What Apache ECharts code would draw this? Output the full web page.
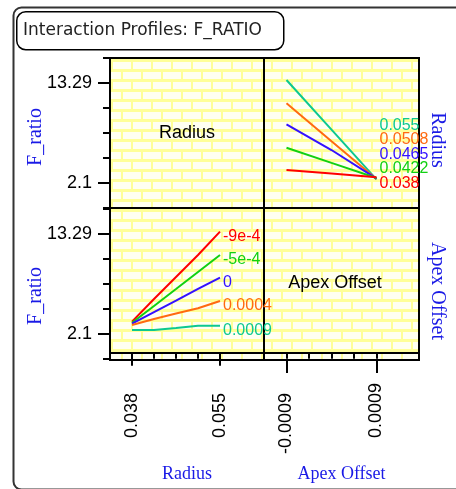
<!DOCTYPE html>
<html><head><meta charset="utf-8">
<script src="https://cdn.jsdelivr.net/npm/echarts@6/dist/echarts.min.js"></script>
<style>html,body{margin:0;padding:0;background:#fff}#c{width:456px;height:489px}</style>
</head><body><div id="c"></div>
<script>
// ---- data ----
const titleText = 'Interaction Profiles: F_RATIO';
const responseName = 'F_ratio';
const factorNames = ['Radius', 'Apex Offset'];
const fTickLabels = [2.1, 13.29];
const radiusTickLabels = [0.038, 0.055];
const apexTickLabels = [-0.0009, 0.0009];

// top-right panel: F_ratio vs Apex Offset, one line per Radius level
const apexX = [-0.0009, 0, 0.0009];
const radiusLevelNames = ['0.055', '0.0508', '0.0465', '0.0422', '0.038'];
const fAtRadius0550 = [13.63, 8.07, 2.51];
const fAtRadius0508 = [11.02, 6.78, 2.55];
const fAtRadius0465 = [8.67, 5.79, 2.60];
const fAtRadius0422 = [6.05, 4.35, 2.66];
const fAtRadius0380 = [3.55, 3.15, 2.74];

// bottom-left panel: F_ratio vs Radius, one line per Apex Offset level
const radiusX = [0.038, 0.04225, 0.0465, 0.05075, 0.055];
const apexLevelNames = ['-9e-4', '-5e-4', '0', '0.0004', '0.0009'];
const fAtApexM9 = [3.48, 6.02, 8.48, 10.94, 13.55];
const fAtApexM5 = [3.36, 5.24, 7.13, 9.03, 10.94];
const fAtApex0 = [3.25, 4.56, 5.83, 7.14, 8.40];
const fAtApexP4 = [3.11, 3.78, 4.39, 4.98, 5.79];
const fAtApexP9 = [2.55, 2.55, 2.77, 3.03, 3.03];

// ---- styling ----
const C = { red: '#ff0000', green: '#12d012', blue: '#3311ff', orange: '#ff6a10', teal: '#0dc890' };
const SANS = '"Liberation Sans", Arial, sans-serif';
const SERIF = '"Liberation Serif", "Times New Roman", serif';

// brick pattern
const tile = document.createElement('canvas');
tile.width = 20; tile.height = 20;
const g = tile.getContext('2d');
g.fillStyle = '#ffff99'; g.fillRect(0, 0, 20, 20);
g.fillStyle = '#fffff2';
[[13, 2], [-7, 2], [3, 12], [-17, 12]].forEach(p => g.fillRect(p[0], p[1], 18, 7));
const bricks = { image: tile, repeat: 'repeat' };

// ticks derived from the labelled ticks
const yStep = (fTickLabels[1] - fTickLabels[0]) / 4;
const yTicks = [-1, 0, 1, 2, 3, 4, 5].map(k => fTickLabels[0] + k * yStep);
const rStep = (radiusTickLabels[1] - radiusTickLabels[0]) / 4;
const rTicks = [-1, 0, 1, 2, 3, 4].map(k => radiusTickLabels[0] + k * rStep);
const aStep = (apexTickLabels[1] - apexTickLabels[0]) / 4;
const aTicks = [-1, 0, 1, 2, 3, 4].map(k => apexTickLabels[0] + k * aStep);

const rMin = radiusTickLabels[0] - rStep, rMax = radiusTickLabels[0] + 6 * rStep;
const aMin = apexTickLabels[0] - aStep, aMax = apexTickLabels[0] + 5.89 * aStep;
const yTopMin = fTickLabels[0] - yStep, yTopMax = fTickLabels[1] + yStep;
const yBotMin = fTickLabels[0] - yStep * 26 / 25, yBotMax = fTickLabels[1] + yStep * 26 / 25;

const gridBase = { show: true, backgroundColor: bricks, borderColor: '#000', borderWidth: 2, containLabel: false };
const grids = [
  Object.assign({ left: 110, top: 58, width: 154, height: 150 }, gridBase),
  Object.assign({ left: 264, top: 58, width: 155, height: 150 }, gridBase),
  Object.assign({ left: 110, top: 208, width: 154, height: 152 }, gridBase),
  Object.assign({ left: 264, top: 208, width: 155, height: 152 }, gridBase)
];

const lineAx = { show: true, lineStyle: { color: '#000', width: 2 } };
function hiddenAxis(extra) {
  return Object.assign({ type: 'value', axisLine: { show: false }, axisTick: { show: false },
    axisLabel: { show: false }, splitLine: { show: false } }, extra);
}
function tickAxis(extra, ticks, len) {
  return Object.assign({ type: 'value', axisLine: lineAx,
    axisTick: { show: true, length: len, customValues: ticks, lineStyle: { color: '#000', width: 2 } },
    axisLabel: { show: false }, splitLine: { show: false } }, extra);
}
const xLabel = {
  show: true, rotate: 90, margin: 23, color: '#000', fontSize: 18, fontFamily: SANS,
  formatter: v => (v < 0 ? '{n|' : '{p|') + String(v) + '}',
  rich: { p: { width: 55, align: 'left', fontSize: 18, fontFamily: SANS, color: '#000' },
          n: { width: 71, align: 'left', fontSize: 18, fontFamily: SANS, color: '#000' } }
};
const nameBottom = { color: '#1a1ae6', fontSize: 18, fontFamily: SERIF };
function sideName(pad) { return { color: '#1a1ae6', fontSize: 20, fontFamily: SERIF, padding: pad }; }

const xAxes = [
  hiddenAxis({ gridIndex: 0, min: rMin, max: rMax }),
  hiddenAxis({ gridIndex: 1, min: aMin, max: aMax }),
  tickAxis({ gridIndex: 2, position: 'bottom', min: rMin, max: rMax }, rTicks, 6),
  Object.assign(tickAxis({ gridIndex: 2, position: 'bottom', min: rMin, max: rMax }, radiusTickLabels, 13), {
    axisLabel: Object.assign({ customValues: radiusTickLabels }, xLabel),
    name: factorNames[0], nameLocation: 'middle', nameGap: 105, nameTextStyle: nameBottom }),
  tickAxis({ gridIndex: 3, position: 'bottom', min: aMin, max: aMax }, aTicks, 6),
  Object.assign(tickAxis({ gridIndex: 3, position: 'bottom', min: aMin, max: aMax }, apexTickLabels, 13), {
    axisLabel: Object.assign({ customValues: apexTickLabels }, xLabel),
    name: factorNames[1], nameLocation: 'middle', nameGap: 105, nameTextStyle: nameBottom })
];
const yLabel = { show: true, margin: 18, color: '#000', fontSize: 18, fontFamily: SANS, formatter: v => String(v) };
const yAxes = [
  tickAxis({ gridIndex: 0, position: 'left', min: yTopMin, max: yTopMax }, yTicks, 7),
  Object.assign(tickAxis({ gridIndex: 0, position: 'left', min: yTopMin, max: yTopMax }, fTickLabels, 12), {
    axisLabel: Object.assign({ customValues: fTickLabels }, yLabel),
    name: responseName, nameLocation: 'middle', nameRotate: 90, nameGap: 64, nameMoveOverlap: false,
    nameTextStyle: sideName([0, 8, 0, 0]) }),
  hiddenAxis({ gridIndex: 1, position: 'right', min: yTopMin, max: yTopMax,
    name: factorNames[0], nameLocation: 'middle', nameRotate: -90, nameGap: 8, nameTextStyle: sideName([0, 0, 0, 14]) }),
  tickAxis({ gridIndex: 2, position: 'left', min: yBotMin, max: yBotMax }, yTicks, 7),
  Object.assign(tickAxis({ gridIndex: 2, position: 'left', min: yBotMin, max: yBotMax }, fTickLabels, 12), {
    axisLabel: Object.assign({ customValues: fTickLabels }, yLabel),
    name: responseName, nameLocation: 'middle', nameRotate: 90, nameGap: 64, nameMoveOverlap: false,
    nameTextStyle: sideName([0, 24, 0, 0]) }),
  hiddenAxis({ gridIndex: 3, position: 'right', min: yBotMin, max: yBotMax,
    name: factorNames[1], nameLocation: 'middle', nameRotate: -90, nameGap: 8, nameTextStyle: sideName([0, 0, 0, 14]) })
];

function lineSeries(name, xs, ys, color, xi, yi, dy) {
  return {
    type: 'line', name: name, xAxisIndex: xi, yAxisIndex: yi,
    data: xs.map((x, i) => [x, ys[i]]), showSymbol: false, symbol: 'none',
    lineStyle: { color: color, width: 2 }, itemStyle: { color: color },
    clip: false, silent: true,
    endLabel: { show: true, formatter: name, color: color, fontSize: 16, fontFamily: SANS,
      distance: 3, offset: [0, dy] }
  };
}
const series = [
  lineSeries(radiusLevelNames[0], apexX, fAtRadius0550, C.teal, 1, 2, -54),
  lineSeries(radiusLevelNames[1], apexX, fAtRadius0508, C.orange, 1, 2, -39),
  lineSeries(radiusLevelNames[2], apexX, fAtRadius0465, C.blue, 1, 2, -24),
  lineSeries(radiusLevelNames[3], apexX, fAtRadius0422, C.green, 1, 2, -9),
  lineSeries(radiusLevelNames[4], apexX, fAtRadius0380, C.red, 1, 2, 6),
  lineSeries(apexLevelNames[0], radiusX, fAtApexM9, C.red, 2, 3, 5),
  lineSeries(apexLevelNames[1], radiusX, fAtApexM5, C.green, 2, 3, 5),
  lineSeries(apexLevelNames[2], radiusX, fAtApex0, C.blue, 2, 3, 5),
  lineSeries(apexLevelNames[3], radiusX, fAtApexP4, C.orange, 2, 3, 5),
  lineSeries(apexLevelNames[4], radiusX, fAtApexP9, C.teal, 2, 3, 5)
];

const chart = echarts.init(document.getElementById('c'), null, { renderer: 'canvas' });
chart.setOption({
  animation: false,
  backgroundColor: '#fff',
  grid: grids, xAxis: xAxes, yAxis: yAxes, series: series,
  graphic: [
    { type: 'rect', left: 11, top: 5, shape: { width: 470, height: 482, r: 8 }, z: 100,
      style: { fill: 'none', stroke: '#333', lineWidth: 2 } },
    { type: 'rect', left: 16, top: 11, shape: { width: 267, height: 38, r: 9 }, z: 100,
      style: { fill: '#fff', stroke: '#000', lineWidth: 1.5 } },
    { type: 'text', left: 23, top: 22, z: 101,
      style: { text: titleText, fontSize: 17, fontFamily: '"DejaVu Sans", sans-serif', fill: '#222' } },
    { type: 'text', x: 187, y: 133, z: 101,
      style: { text: factorNames[0], fontSize: 18, fontFamily: SANS, fill: '#000', align: 'center', verticalAlign: 'middle' } },
    { type: 'text', x: 335, y: 283, z: 101,
      style: { text: factorNames[1], fontSize: 18, fontFamily: SANS, fill: '#000', align: 'center', verticalAlign: 'middle' } }
  ]
});
</script></body></html>
